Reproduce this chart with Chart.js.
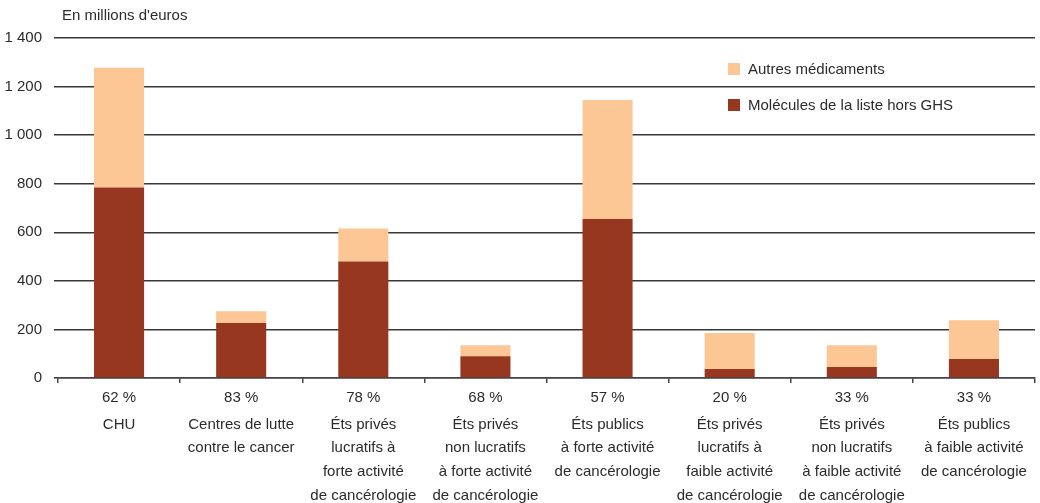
<!DOCTYPE html>
<html>
<head>
<meta charset="utf-8">
<script src="https://cdn.jsdelivr.net/npm/chart.js@4/dist/chart.umd.min.js"></script>
<style>
html,body{margin:0;padding:0;background:#fff;}
#wrap{width:1040px;height:503px;}
</style>
</head>
<body>
<div id="wrap"><canvas id="c" width="1040" height="503"></canvas></div>
<script>
const categories = [
  ['CHU'],
  ['Centres de lutte', 'contre le cancer'],
  ['Éts privés', 'lucratifs à', 'forte activité', 'de cancérologie'],
  ['Éts privés', 'non lucratifs', 'à forte activité', 'de cancérologie'],
  ['Éts publics', 'à forte activité', 'de cancérologie'],
  ['Éts privés', 'lucratifs à', 'faible activité', 'de cancérologie'],
  ['Éts privés', 'non lucratifs', 'à faible activité', 'de cancérologie'],
  ['Éts publics', 'à faible activité', 'de cancérologie']
];
const shares = ['62 %', '83 %', '78 %', '68 %', '57 %', '20 %', '33 %', '33 %'];
const molecules = [784, 226, 480, 90, 655, 37, 45, 78];
const autres = [493, 49, 136, 45, 490, 148, 90, 160];
const yTicks = [0, 200, 400, 600, 800, 1000, 1200, 1400];
const seriesNames = ['Molécules de la liste hors GHS', 'Autres médicaments'];
const unitLabel = "En millions d'euros";

const DARK = '#973720';
const LIGHT = '#FCC695';
const TEXT = '#2b2b2b';
const FONT = '"Liberation Sans", Arial, sans-serif';
const FS = 15;

const extras = {
  id: 'extras',
  afterDraw(chart) {
    const ctx = chart.ctx;
    const xs = chart.scales.x;
    const area = chart.chartArea;
    ctx.save();
    ctx.fillStyle = TEXT;
    ctx.font = FS + 'px ' + FONT;
    ctx.textBaseline = 'middle';
    ctx.textAlign = 'left';
    ctx.fillText(unitLabel, area.left + 4, 16);
    ctx.textAlign = 'center';
    shares.forEach((s, i) => {
      ctx.fillText(s, xs.getPixelForValue(i), area.bottom + 20);
    });
    const items = [
      {label: chart.data.datasets[1].label, color: chart.data.datasets[1].backgroundColor},
      {label: chart.data.datasets[0].label, color: chart.data.datasets[0].backgroundColor}
    ];
    items.forEach((it, k) => {
      const y = 69 + k * 36;
      ctx.fillStyle = it.color;
      ctx.fillRect(728, y - 6, 12, 12);
      ctx.fillStyle = TEXT;
      ctx.textAlign = 'left';
      ctx.fillText(it.label, 748, y + 1);
    });
    ctx.restore();
  }
};

new Chart(document.getElementById('c'), {
  type: 'bar',
  data: {
    labels: categories,
    datasets: [
      {label: seriesNames[0], data: molecules, backgroundColor: DARK, barPercentage: 1, categoryPercentage: 0.41},
      {label: seriesNames[1], data: autres, backgroundColor: LIGHT, barPercentage: 1, categoryPercentage: 0.41}
    ]
  },
  options: {
    responsive: false,
    animation: false,
    layout: {padding: {top: 38, right: 5, left: 0, bottom: 0}},
    plugins: {legend: {display: false}, tooltip: {enabled: false}},
    scales: {
      x: {
        stacked: true,
        afterFit(s) { s.height = 125; s.paddingLeft = 0; s.paddingRight = 0; },
        grid: {display: true, drawOnChartArea: false, drawTicks: true, tickLength: 5, offset: true, color: '#444', lineWidth: 1.5},
        border: {display: true, color: '#444', width: 1.5},
        ticks: {color: TEXT, font: {family: FONT, size: FS, lineHeight: 1.57}, padding: 30, maxRotation: 0, autoSkip: false}
      },
      y: {
        stacked: true,
        min: 0, max: 1400,
        afterFit(s) { s.width = 58; s.paddingTop = 0; s.paddingBottom = 0; },
        afterBuildTicks(s) { s.ticks = yTicks.map(v => ({value: v})); },
        grid: {color: '#383838', lineWidth: 1.5, drawTicks: true, tickLength: 4},
        border: {display: false},
        ticks: {
          color: TEXT, font: {family: FONT, size: FS}, padding: 12,
          callback: v => String(v).replace(/\B(?=(\d{3})+(?!\d))/g, ' ')
        }
      }
    }
  },
  plugins: [extras]
});
</script>
</body>
</html>
